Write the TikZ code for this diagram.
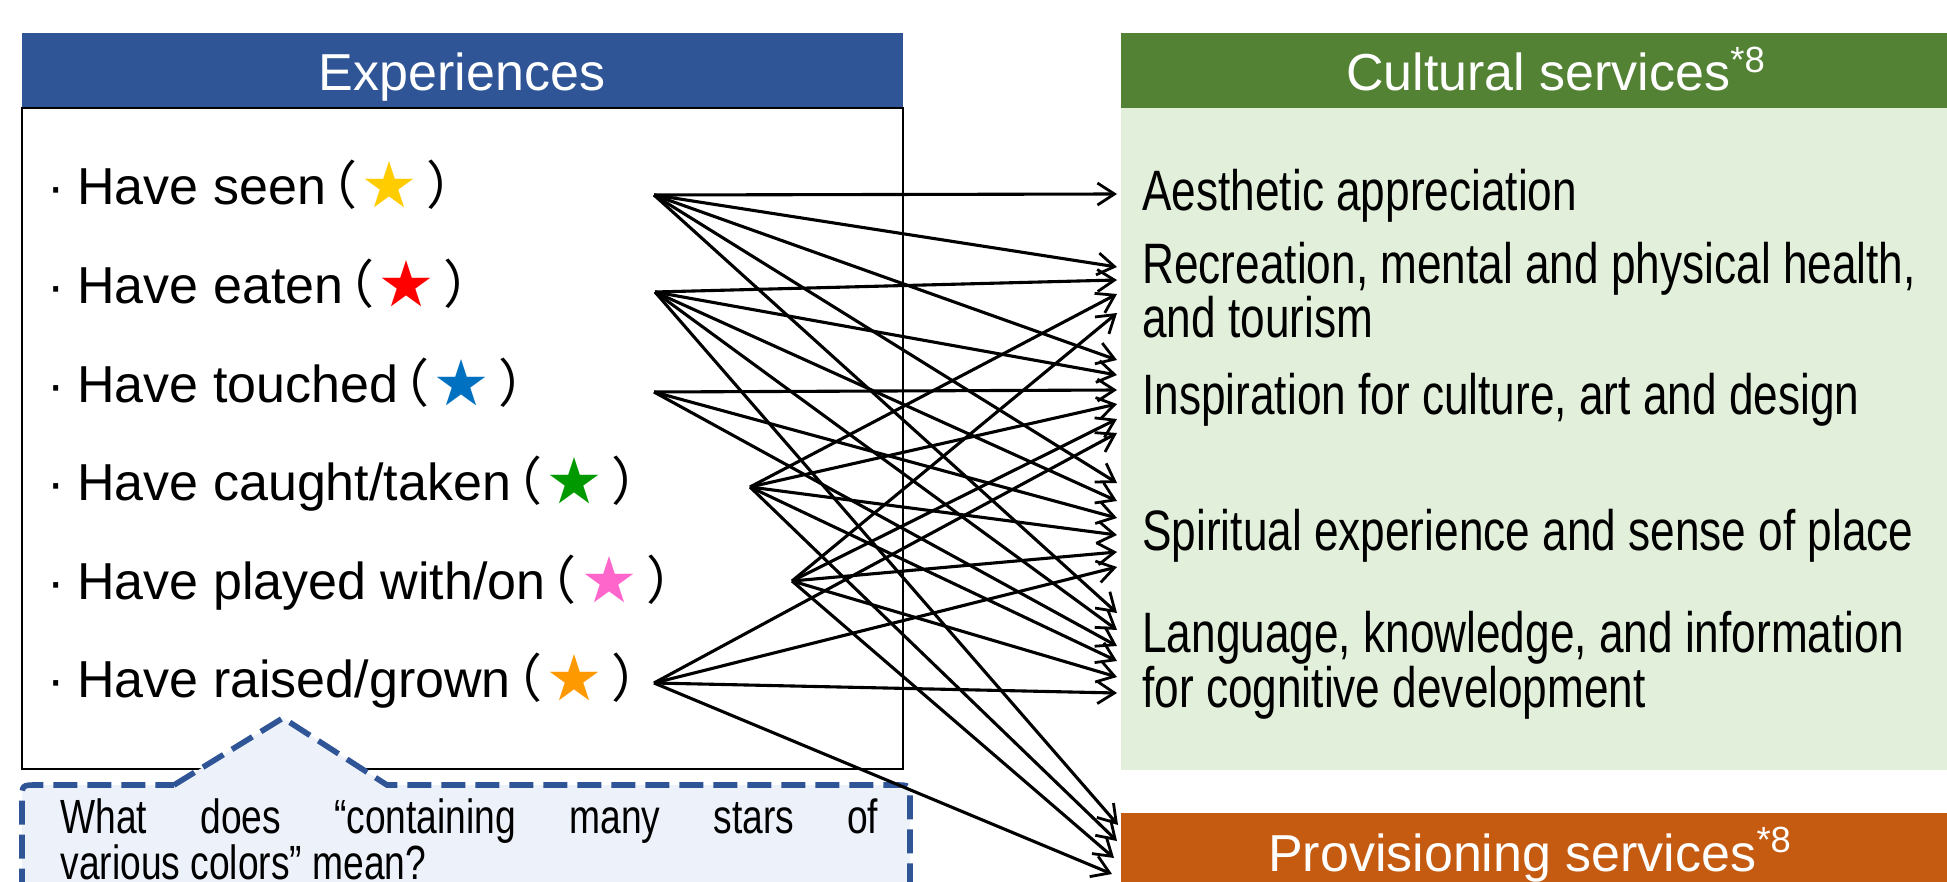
\documentclass[tikz,border=0pt]{standalone}
\usepackage{fontspec}
\setmainfont{Liberation Sans}
\newfontfamily\narrowfont[FakeStretch=0.775]{Liberation Sans}
\newfontfamily\cjkfont{Noto Sans CJK JP}
\newfontfamily\cjkhalf[RawFeature=+halt]{Noto Sans CJK JP}
\usetikzlibrary{arrows.meta}
\definecolor{hdrblue}{HTML}{2F5597}
\definecolor{hdrgreen}{HTML}{548235}
\definecolor{bodygreen}{HTML}{E2EFDA}
\definecolor{hdrorange}{HTML}{C55A11}
\definecolor{calloutfill}{HTML}{EDF1FA}
\definecolor{calloutline}{HTML}{2F5597}
\definecolor{staryellow}{HTML}{FFCC00}
\definecolor{starred}{HTML}{FF0000}
\definecolor{starblue}{HTML}{0070C0}
\definecolor{stargreen}{HTML}{009900}
\definecolor{starpink}{HTML}{FF66CC}
\definecolor{starorange}{HTML}{FF9900}
\newcommand{\expitem}[2]{\makebox[10pt]{·}\hspace{5.5pt}#1\kern0.1em{\cjkhalf （}\kern0.12em{\cjkfont\textcolor{#2}{★}}\kern0.21em{\cjkhalf ）}}
\begin{document}
\begin{tikzpicture}[x=0.5pt,y=-0.5pt,
  conn/.style={draw=black, line width=1.55pt, -{Straight Barb[length=8.5pt,width=11pt,line width=1.4pt]}},
  hdrtext/.style={text=white, font=\fontsize{26pt}{30pt}\selectfont, inner sep=0pt, anchor=base},
  itemtext/.style={font=\fontsize{26pt}{30pt}\selectfont, inner sep=0pt, anchor=base west},
  svctext/.style={font=\narrowfont\fontsize{28.5pt}{27.5pt}\selectfont, inner sep=0pt, anchor=base west},
  callout/.style={draw=calloutline, fill=calloutfill, line width=2.8pt, dash pattern=on 12pt off 5pt},
  boxline/.style={draw=black, line width=0.8pt}
]
\useasboundingbox (0,0) rectangle (1947,882);
\clip (0,0) rectangle (1947,882);
\fill[white] (0,0) rectangle (1947,882);

% right side panels
\fill[bodygreen] (1121,108) rectangle (1960,770);
\fill[hdrgreen] (1121,33) rectangle (1960,108);
\node[hdrtext] (cult) at (1556,91) {Cultural services\textsuperscript{*8}};
\fill[hdrorange] (1121,813) rectangle (1960,900);
\node[hdrtext] (prov) at (1530,871) {Provisioning services\textsuperscript{*8}};

% left panel
\fill[hdrblue] (22,33) rectangle (903,108);
\node[hdrtext] (exph) at (462,91) {Experiences};
\draw[boxline] (22,108) rectangle (903,769);

% callout
\path[callout] (174,785) -- (283,718) -- (387,785) -- (895,785) .. controls (910,785) .. (910,800) -- (910,910) -- (22,910) -- (22,800) .. controls (22,785) .. (37,785) -- cycle;
\node[anchor=base west, inner sep=0pt, font=\narrowfont\fontsize{24pt}{21.5pt}\selectfont] (quest) at (60,833)
  {\parbox[t]{409pt}{What does “containing many stars of\linebreak various colors” mean?}};

% experience items
\node[itemtext] (e1) at (46,205) {\expitem{Have seen}{staryellow}};
\node[itemtext] (e2) at (46,303.5) {\expitem{Have eaten}{starred}};
\node[itemtext] (e3) at (46,402) {\expitem{Have touched}{starblue}};
\node[itemtext] (e4) at (46,500.5) {\expitem{Have caught/taken}{stargreen}};
\node[itemtext] (e5) at (46,599) {\expitem{Have played with/on}{starpink}};
\node[itemtext] (e6) at (46,697.5) {\expitem{Have raised/grown}{starorange}};

% services
\node[svctext] (sa) at (1142,211) {Aesthetic appreciation};
\node[svctext] (sr) at (1142,283) {\vtop{\hbox{Recreation, mental and physical health,}\hbox{and tourism}}};
\node[svctext] (si) at (1142,414) {Inspiration for culture, art and design};
\node[svctext] (ss) at (1142,550) {Spiritual experience and sense of place};
\node[svctext] (sl) at (1142,652) {\vtop{\hbox{Language, knowledge, and information}\hbox{for cognitive development}}};

% connector ends
\coordinate (s1) at (654,195);
\coordinate (s2) at (655,292);
\coordinate (s3) at (654,392);
\coordinate (s4) at (750,487);
\coordinate (s5) at (792,581);
\coordinate (s6) at (654,683);

\coordinate (a1) at (1117,194);
\coordinate (r1) at (1117,267);
\coordinate (r2) at (1117,280);
\coordinate (r4) at (1117,294);
\coordinate (r5) at (1117,313);
\coordinate (i1) at (1117,360);
\coordinate (i2) at (1117,375);
\coordinate (i3) at (1117,390);
\coordinate (i4) at (1117,404);
\coordinate (i5) at (1117,419);
\coordinate (i6) at (1117,433);
\coordinate (p1) at (1117,483);
\coordinate (p2) at (1117,501);
\coordinate (p3) at (1117,518);
\coordinate (p4) at (1117,535);
\coordinate (p5) at (1117,552);
\coordinate (p6) at (1117,567);
\coordinate (l1) at (1117,613);
\coordinate (l2) at (1117,630);
\coordinate (l3) at (1117,646);
\coordinate (l4) at (1117,661);
\coordinate (l5) at (1117,677);
\coordinate (l6) at (1117,693);
\coordinate (v2) at (1118,825);
\coordinate (v4) at (1117,841);
\coordinate (v5) at (1114,858);
\coordinate (v6) at (1112,874);

\foreach \a/\b in {s1/a1, s1/r1, s1/i1, s1/p1, s1/l1,
                   s2/r2, s2/i2, s2/p2, s2/l2, s2/v2,
                   s3/i3, s3/p3, s3/l3,
                   s4/r4, s4/i4, s4/p4, s4/l4, s4/v4,
                   s5/r5, s5/i5, s5/p5, s5/l5, s5/v5,
                   s6/i6, s6/p6, s6/l6, s6/v6}
  \draw[conn] (\a) -- (\b);
\end{tikzpicture}
\end{document}
